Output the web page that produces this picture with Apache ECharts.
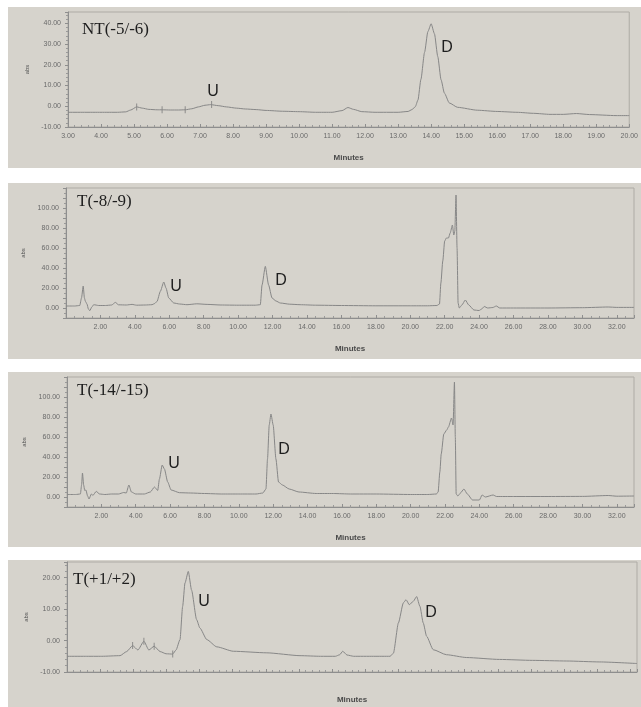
<!DOCTYPE html>
<html>
<head>
<meta charset="utf-8">
<script src="https://cdn.jsdelivr.net/npm/echarts@6/dist/echarts.min.js"></script>
<style>
html,body{margin:0;padding:0;background:#fff;}
#chart{width:641px;height:707px;}
</style>
</head>
<body>
<div id="chart"></div>
<script>
// ---------- DATA (time in minutes, absorbance) ----------
const panelTitles = ['NT(-5/-6)', 'T(-8/-9)', 'T(-14/-15)', 'T(+1/+2)'];
const peakLetters = ['U', 'D'];

const traceNT = [
  [3.0,-2.9],[3.5,-2.9],[4.0,-2.9],[4.5,-2.9],[4.75,-2.7],[4.9,-1.8],[5.08,-0.3],[5.25,-0.9],[5.45,-1.5],[5.7,-1.7],
  [5.85,-1.7],[6.1,-1.8],[6.35,-1.8],[6.55,-1.7],[6.75,-1.2],[6.95,-0.3],[7.15,0.5],[7.32,0.8],[7.55,0.3],[7.8,-0.3],
  [8.1,-0.9],[8.37,-1.3],[8.7,-1.6],[9.0,-2.0],[9.5,-2.4],[10.0,-2.6],[10.5,-2.9],[11.0,-2.9],[11.3,-2.1],[11.48,-0.6],
  [11.65,-1.5],[11.9,-2.6],[12.3,-2.9],[13.0,-2.9],[13.3,-2.5],[13.42,-1.6],[13.52,-0.2],[13.6,3],[13.69,13],[13.8,26],
  [13.9,36],[14.0,39.8],[14.1,35],[14.2,24],[14.3,12.8],[14.4,6.4],[14.55,1.6],[14.8,-0.5],[15.4,-1.9],[16.0,-2.5],
  [16.6,-2.9],[17.1,-3.4],[17.6,-3.9],[18.0,-3.9],[18.4,-3.5],[18.8,-4.0],[19.6,-4.5],[20.0,-4.5]
];
const marksNT = [[5.08,-0.3],[5.85,-1.7],[6.55,-1.7],[7.35,0.8]];

const trace89 = [
  [0.0,2],[0.5,2],[0.8,2.5],[0.9,10],[1.0,22],[1.07,10],[1.13,6.6],[1.22,4],[1.3,-1],[1.38,-2.7],[1.5,1],[1.61,3.3],
  [1.9,2.5],[2.3,2.5],[2.65,3],[2.87,5.6],[3.05,3.2],[3.5,3],[3.84,3.6],[4.1,2.8],[4.6,3],[5.0,3.3],[5.15,4.5],
  [5.29,6.6],[5.48,16.6],[5.68,26],[5.81,20],[5.97,10],[6.26,5],[6.6,4],[7.03,3.3],[7.6,4.2],[8.2,3.6],[9.0,3],
  [10.0,2.8],[11.0,2.8],[11.29,3.3],[11.39,23],[11.58,41.6],[11.77,23],[11.97,10],[12.2,7],[12.45,5],[13.0,3.8],
  [13.6,3.3],[14.5,2.8],[16.0,2.5],[18.0,2.2],[20.0,2.2],[21.0,2.2],[21.55,2.5],[21.7,4],[21.78,25],[21.89,47],
  [22.0,67],[22.1,70],[22.22,70],[22.32,75],[22.45,83],[22.53,73],[22.59,77],[22.66,113],[22.72,60],[22.78,5],
  [22.85,0],[23.0,3],[23.2,8],[23.4,3],[23.7,-2],[24.0,-2.5],[24.15,-1],[24.3,1.5],[24.5,0],[24.8,0.5],[25.0,2],
  [25.2,0],[26,0],[28,0],[30,0.3],[31.5,1],[32,0.6],[33,0.6]
];

const trace1415 = [
  [0.0,2.5],[0.5,2.5],[0.78,3],[0.85,12],[0.9,24],[0.97,12],[1.03,6.6],[1.1,7],[1.2,1],[1.28,-2],[1.42,3],[1.51,1.6],
  [1.7,5.6],[1.9,3],[2.2,2.5],[2.6,3],[3.0,3],[3.3,4.5],[3.45,4],[3.6,12],[3.75,5],[4.0,3],[4.5,3],[4.85,5],
  [5.09,10],[5.28,6.6],[5.38,18],[5.54,32],[5.67,28],[5.86,15],[6.06,7],[6.55,4.3],[7.2,4],[8.0,3.5],[9.0,3],
  [10.0,3],[11.0,3],[11.4,4],[11.58,8],[11.67,38],[11.77,72],[11.87,83],[12.0,72],[12.16,38],[12.31,15],[12.54,12],
  [12.93,8],[13.5,5],[14.5,3.5],[15.5,3.5],[16.5,3],[18.0,3],[20.0,2.5],[21.0,2.5],[21.5,3],[21.6,5],[21.7,25],
  [21.78,43],[21.93,63],[22.1,67],[22.2,70],[22.38,79],[22.47,72],[22.55,115],[22.6,60],[22.65,3],[22.75,1],
  [22.9,4],[23.1,8],[23.3,3],[23.6,-3],[24.0,-3],[24.16,2],[24.35,0],[24.8,2],[25.0,0.5],[26,0.5],[28,0.5],
  [30,0.6],[31.5,1.5],[32,0.8],[33,1]
];

const trace12 = [
  [2.95,-5],[3.5,-5],[4.0,-5],[4.55,-4.8],[4.75,-3.5],[4.93,-1.6],[5.09,-3],[5.27,-0.2],[5.42,-3],[5.58,-1.8],
  [5.76,-3.5],[5.94,-4.2],[6.14,-4.3],[6.24,-3],[6.36,0.3],[6.44,10.9],[6.51,18.3],[6.61,22],[6.71,16],[6.86,6.7],
  [6.96,4],[7.17,0.3],[7.47,-2],[7.97,-3.4],[8.98,-3.9],[9.98,-4.8],[10.6,-5],[11.05,-5],[11.18,-4.5],[11.27,-3.4],
  [11.4,-4.6],[11.6,-5],[12.2,-5],[12.7,-5],[12.8,-4],[12.95,5.6],[13.1,12],[13.18,13],[13.28,11.4],[13.4,12.5],
  [13.5,14],[13.6,10.9],[13.7,5.6],[13.8,1.4],[14.0,-2.9],[14.4,-4.5],[15.01,-5.4],[16.0,-6],[17.0,-6.3],
  [18.03,-6.5],[19.03,-6.8],[20.15,-7.3]
];
const marks12 = [[4.93,-1.6],[5.27,-0.2],[5.58,-1.8],[6.14,-4.3]];

// ---------- LAYOUT / STYLE ----------
const lineColor = '#878787';
const grids = [
  {left:68, top:12,  width:565, height:115},
  {left:66, top:188, width:568, height:130},
  {left:67, top:377, width:567, height:130},
  {left:67, top:562, width:570, height:110}
];
const xCfg = [
  {min:3, max:20, interval:1, minor:5, hideBelow:3, nameGap:27},
  {min:0, max:33, interval:2, minor:4, hideBelow:2, nameGap:27},
  {min:0, max:33, interval:2, minor:4, hideBelow:2, nameGap:27},
  {min:2.95, max:20.15, interval:1, minor:5, hideBelow:4, nameGap:24}
];
const yCfg = [
  {min:-10, max:45.5, interval:10, step:10, lo:-10, hi:40, minor:5},
  {min:-10, max:120, interval:10, step:20, lo:0, hi:100, minor:2},
  {min:-10, max:120, interval:10, step:20, lo:0, hi:100, minor:2},
  {min:-10, max:25, interval:10, step:10, lo:-10, hi:20, minor:5}
];
const panelRects = [[8,7,633,161],[8,183,633,176],[8,372,633,175],[8,560,633,147]];
const titlePos = [[82,30],[77,202],[77,391],[73,580]];
const letterPos = [[[213,92],[447,48]],[[176,287],[281,281]],[[174,464],[284,450]],[[204,602],[431,613]]];

const isMult = (v, s) => Math.abs(v / s - Math.round(v / s)) < 1e-6;

const xAxes = xCfg.map((c, i) => ({
  type:'value', gridIndex:i, min:c.min, max:c.max, interval:c.interval,
  name:'Minutes', nameLocation:'middle', nameGap:c.nameGap,
  nameTextStyle:{fontSize:8, color:'#4a4a4a', fontFamily:'Liberation Sans', fontWeight:'bold'},
  axisLine:{show:true, onZero:false, lineStyle:{color:'#8e8e8e', width:1}},
  axisTick:{show:true, inside:true, length:3, lineStyle:{color:'#8e8e8e'}},
  minorTick:{show:true, splitNumber:c.minor, length:2, lineStyle:{color:'#9a9a9a'}},
  splitLine:{show:false},
  axisLabel:{fontSize:7, color:'#6a6a6a', margin:6, fontFamily:'Liberation Sans',
    showMinLabel:true, showMaxLabel:true,
    formatter: v => (isMult(v, c.interval) && v >= c.hideBelow - 1e-6) ? v.toFixed(2) : ''}
}));
const yAxes = yCfg.map((c, i) => ({
  type:'value', gridIndex:i, min:c.min, max:c.max, interval:c.interval,
  name:'abs', nameLocation:'middle', nameGap:30,
  nameTextStyle:{fontSize:6, color:'#555', fontFamily:'Liberation Sans'},
  axisLine:{show:true, onZero:false, lineStyle:{color:'#8e8e8e', width:1}},
  axisTick:{show:true, inside:false, length:3, lineStyle:{color:'#8e8e8e'}},
  minorTick:{show:true, splitNumber:c.minor, length:2, lineStyle:{color:'#9a9a9a'}},
  splitLine:{show:false},
  axisLabel:{fontSize:7, color:'#6a6a6a', margin:7, fontFamily:'Liberation Sans',
    formatter: v => (isMult(v, c.step) && v >= c.lo - 1e-6 && v <= c.hi + 1e-6) ? v.toFixed(2) : ''}
}));

const traces = [traceNT, trace89, trace1415, trace12];
const marks = [marksNT, null, null, marks12];

const series = [];
traces.forEach((d, i) => {
  series.push({
    type:'line', xAxisIndex:i, yAxisIndex:i, data:d, showSymbol:false, silent:true,
    smooth:0.2, smoothMonotone:'x',
    lineStyle:{color:lineColor, width:1}, animation:false
  });
  if (marks[i]) {
    series.push({
      type:'scatter', xAxisIndex:i, yAxisIndex:i, data:marks[i], silent:true,
      symbol:'rect', symbolSize:[1,7], itemStyle:{color:'#7a7a7a'}, animation:false
    });
  }
});

const graphics = [];
panelRects.forEach(r => graphics.push({
  type:'rect', z:-100, silent:true,
  shape:{x:r[0], y:r[1], width:r[2], height:r[3]},
  style:{fill:'#d6d3cc'}
}));
panelTitles.forEach((t, i) => graphics.push({
  type:'text', z:100, silent:true, x:titlePos[i][0], y:titlePos[i][1],
  style:{text:t, font:'17px "Liberation Serif"', fill:'#1e1e1e', verticalAlign:'middle', align:'left'}
}));
letterPos.forEach(pair => pair.forEach((p, k) => graphics.push({
  type:'text', z:100, silent:true, x:p[0], y:p[1],
  style:{text:peakLetters[k], font:'16px "Liberation Sans"', fill:'#1e1e1e', verticalAlign:'middle', align:'center'}
})));

const chart = echarts.init(document.getElementById('chart'), null, {renderer:'canvas'});
chart.setOption({
  backgroundColor:'#ffffff',
  animation:false,
  grid: grids.map(g => Object.assign({show:true, borderColor:'#aeaba5', borderWidth:1, backgroundColor:'transparent'}, g)),
  xAxis: xAxes,
  yAxis: yAxes,
  series: series,
  graphic: graphics
});
</script>
</body>
</html>
